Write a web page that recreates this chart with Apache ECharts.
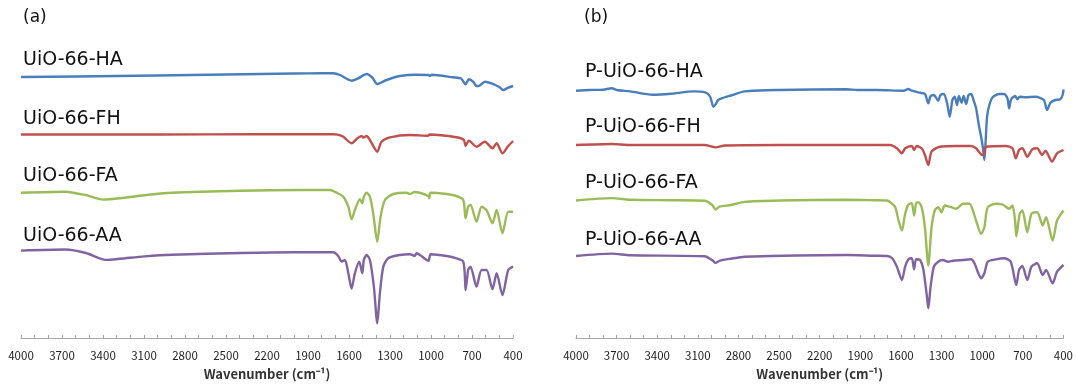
<!DOCTYPE html>
<html>
<head>
<meta charset="utf-8">
<script src="https://cdn.jsdelivr.net/npm/echarts@6/dist/echarts.min.js"></script>
<style>
  html, body { margin: 0; padding: 0; background: #fff; }
  #chart { width: 1076px; height: 386px; }
</style>
</head>
<body>
<div id="chart"></div>
<script>
// FTIR spectra: [wavenumber (cm-1), transmittance (%)]
// Panel (a): as-synthesised UiO-66 samples
const uio66HA = [
  [4000,100],[3600,100.5],[3000,101.5],[2500,102.5],[2000,103.5],[1800,103.7],[1715,103.7],
  [1666,102],[1581,96.3],[1532,98.7],[1471,103],[1430,99.5],[1393,93],[1325,97],[1228,101],
  [1106,102.3],[1018,102],[1008,101],[996,102.2],[838,99.7],[780,98.5],[747,92.7],[723,97.7],
  [690,95],[667,91],[650,91],[606,95.3],[557,93.7],[500,90],[472,87],[435,89.3],[399,91]
];
const uio66FH = [
  [4000,100],[3000,100],[2300,100.2],[1900,100.3],[1715,100.3],[1683,99.8],[1642,97.8],
  [1581,91.2],[1540,96],[1508,98.5],[1496,97],[1471,98.5],[1447,94.5],[1393,82.8],[1362,92.8],
  [1300,97.2],[1155,99.5],[1020,98.8],[1010,100],[813,97.2],[760,94.5],[747,88.5],[723,93.8],
  [667,87.8],[606,92.8],[550,86.2],[520,91.2],[477,81.2],[435,88.5],[399,93.5]
];
const uio66FA = [
  [4000,97.2],[3676,98.3],[3525,94.8],[3399,90.4],[3275,91.7],[3097,94.8],[2895,97.2],
  [2393,99.3],[1959,100],[1740,100],[1690,97.3],[1642,93.3],[1605,83.3],[1581,70.7],[1557,80],
  [1520,90.7],[1503,86.7],[1491,93.3],[1471,97.3],[1447,93.3],[1423,76.7],[1393,48.3],
  [1369,73.3],[1337,90],[1276,96],[1179,97.3],[1155,96],[1118,98],[1018,94],[1013,91.7],
  [1003,97.3],[886,96],[813,94],[764,90],[747,71.7],[728,83.3],[711,85],[667,68.3],[630,83.3],
  [594,80],[550,66.7],[520,80],[477,56.7],[435,78.3],[399,78.3]
];
const uio66AA = [
  [4000,101.7],[3676,102.8],[3525,99.3],[3380,92.4],[3275,93.5],[3097,95.9],[2895,97.6],
  [2393,99.3],[2000,100],[1715,100],[1679,96.3],[1654,90.7],[1630,92.3],[1605,79],[1581,63.7],
  [1557,79],[1525,90.7],[1503,79],[1491,92.7],[1471,97.3],[1447,92.3],[1418,65.7],[1393,29],
  [1374,59],[1349,85.7],[1313,94],[1228,97.3],[1155,98],[1118,96.3],[1106,99],[1018,91.5],
  [1003,98],[886,96.3],[813,94],[764,90.7],[750,70],[747,62.3],[735,75],[728,82.3],[711,85.7],
  [667,65.7],[630,82.3],[594,82.3],[550,63],[520,79],[477,57.3],[435,82.3],[399,85.7]
];

// Panel (b): P-UiO-66 samples
const pUio66HA = [
  [4000,99.3],[3900,100],[3800,100.3],[3735,101.7],[3700,100],[3600,98.6],[3434,95.2],
  [3300,96.2],[3132,98.6],[3050,97.9],[3010,93.5],[2985,83.2],[2969,85.6],[2950,90],[2920,91.8],
  [2856,94.5],[2755,98.6],[2500,100],[2001,100.7],[1922,100],[1776,100],[1581,99.3],[1545,101],
  [1520,99.3],[1459,97.3],[1423,96],[1398,86.7],[1381,94],[1357,95],[1325,89.3],[1308,95],
  [1284,96],[1259,86.7],[1240,73.3],[1220,90],[1203,93.3],[1186,85],[1172,94],[1152,87.3],
  [1137,94],[1118,86],[1101,95],[1081,96],[1064,90],[1045,81.7],[1025,65],[1008,53.3],
  [996,43.3],[984,30],[974,50],[964,73.3],[947,85],[923,92.7],[874,96],[838,96],[813,91.7],
  [801,81.7],[786,90.7],[757,94],[740,90.7],[723,93.3],[679,92.7],[606,93.3],[545,90],
  [521,80],[496,87.3],[460,90],[423,90.7],[406,95],[399,100.7]
];
const pUio66FH = [
  [4000,100],[3735,101],[3600,100],[3050,100],[2969,97.6],[2900,99.5],[2500,100],[1922,100],
  [1679,100],[1630,96.7],[1593,91.7],[1569,96.7],[1520,99],[1503,95],[1484,99],[1447,96.7],
  [1423,90],[1398,80],[1374,93.3],[1313,98.3],[1191,99],[1081,99],[1045,96.7],[1000,90],
  [984,92],[972,98.3],[826,99],[777,96.7],[752,86.7],[728,95],[703,96.7],[667,88.3],[630,95.7],
  [594,96.7],[557,90],[533,94.3],[484,83.3],[447,91.7],[399,95]
];
const pUio66FA = [
  [4000,100],[3735,102.4],[3600,100.7],[3300,100.3],[3050,99.7],[2994,95.5],[2969,91],
  [2940,93.8],[2856,95.5],[2755,98.6],[2500,100],[2001,100.7],[1800,100.3],[1703,100],
  [1679,98.3],[1642,93.3],[1618,80],[1593,70],[1569,86.7],[1545,96],[1520,97.3],[1503,85],
  [1488,97.3],[1471,98.3],[1447,93.3],[1423,73.3],[1398,35],[1374,73.3],[1350,90],[1325,93.3],
  [1301,88.3],[1276,95],[1228,93.3],[1191,91.7],[1142,96.7],[1093,96.7],[1069,90],[1045,80],
  [1008,66.7],[984,73.3],[959,93.3],[898,96.7],[850,96],[801,91.7],[777,95],[757,80],[748,64],
  [723,86.7],[703,90],[667,68.3],[636,86.7],[594,88.3],[553,75],[528,83.3],[480,60],[447,80],
  [399,90]
];
const pUio66AA = [
  [4000,100],[3735,102.4],[3600,100.7],[3050,99.7],[2994,95.9],[2969,93.1],[2940,95.2],
  [2856,97.3],[2755,99.3],[2001,101],[1800,100.3],[1703,100],[1666,97.7],[1630,89.3],
  [1593,76],[1569,89.3],[1545,96.7],[1520,97.7],[1503,86.7],[1488,96.7],[1459,96],[1435,86.7],
  [1411,62.7],[1398,47.7],[1381,69.3],[1357,89.3],[1325,94.3],[1289,96],[1252,94.3],
  [1216,95.3],[1142,96],[1081,96.7],[1057,92.7],[1033,84.3],[1008,77.7],[984,82.7],[959,94.3],
  [898,96.7],[838,97.7],[789,94.3],[748,71],[728,86],[703,90],[667,76],[636,89.3],[594,92.7],
  [553,81],[528,86],[480,72.7],[447,84.3],[399,91]
];

const labelsA = ['UiO-66-HA', 'UiO-66-FH', 'UiO-66-FA', 'UiO-66-AA'];
const labelsB = ['P-UiO-66-HA', 'P-UiO-66-FH', 'P-UiO-66-FA', 'P-UiO-66-AA'];
const panelTitles = ['(a)', '(b)'];
const axisTitle = 'Wavenumber (cm\u207B\u00B9)';
const tickMin = 400, tickMax = 4000, tickStep = 100, labelStep = 300;

// Vertical stacking offsets added to each trace (transmittance units)
const offsetsA = [161, 103.5, 48, -14.3];
const offsetsB = [148, 93, 37.5, -18];

const colors = ['#4a7ebb', '#c0504d', '#9bbb59', '#8064a2'];
const spectraA = [uio66HA, uio66FH, uio66FA, uio66AA];
const spectraB = [pUio66HA, pUio66FH, pUio66FA, pUio66AA];

const shift = (arr, off) => arr.map(p => [p[0], p[1] + off]);

const chart = echarts.init(document.getElementById('chart'), null, { renderer: 'canvas' });

function xAxisFor(gridIndex) {
  return {
    gridIndex, type: 'value', min: tickMin, max: tickMax, interval: tickStep, inverse: true,
    name: axisTitle, nameLocation: 'middle', nameGap: 30,
    nameTextStyle: { fontFamily: 'Noto Sans CJK KR', fontSize: 13, fontWeight: 'bold', color: '#333' },
    axisLine: { lineStyle: { color: '#a6a6a6', width: 1 } },
    axisTick: { inside: true, length: 3, lineStyle: { color: '#a6a6a6' } },
    axisLabel: {
      margin: 12, fontFamily: 'Noto Sans CJK KR', fontSize: 11.5, color: '#222',
      showMinLabel: true, showMaxLabel: true,
      formatter: v => ((tickMax - v) % labelStep === 0 ? String(v) : '')
    },
    splitLine: { show: false }
  };
}
function yAxisFor(gridIndex) {
  return { gridIndex, type: 'value', min: 0, max: 318, show: false, splitLine: { show: false } };
}

const series = [];
spectraA.forEach((s, i) => series.push({
  type: 'line', xAxisIndex: 0, yAxisIndex: 0, data: shift(s, offsetsA[i]),
  showSymbol: false, smooth: 0.25, lineStyle: { color: colors[i], width: 2.4 }, silent: true
}));
spectraB.forEach((s, i) => series.push({
  type: 'line', xAxisIndex: 1, yAxisIndex: 1, data: shift(s, offsetsB[i]),
  showSymbol: false, smooth: 0.25, lineStyle: { color: colors[i], width: 2.4 }, silent: true
}));

const labelYA = [62, 121, 178, 238];
const labelYB = [74, 129, 185, 242];
const txt = (text, x, y, size) => ({
  type: 'text', left: x, top: y - size * 0.6,
  style: { text, fontFamily: 'DejaVu Sans', fontSize: size, fill: '#111' }
});
const graphics = [
  txt(panelTitles[0], 23, 19, 17),
  txt(panelTitles[1], 584, 19, 17)
];
labelsA.forEach((t, i) => graphics.push(txt(t, 23, labelYA[i], 19)));
labelsB.forEach((t, i) => graphics.push(txt(t, 585, labelYB[i], 19)));

chart.setOption({
  animation: false,
  backgroundColor: '#fff',
  grid: [
    { left: 21, right: 563, top: 20, bottom: 48 },
    { left: 576, right: 8, top: 20, bottom: 48 }
  ],
  xAxis: [xAxisFor(0), xAxisFor(1)],
  yAxis: [yAxisFor(0), yAxisFor(1)],
  series,
  graphic: graphics
});
</script>
</body>
</html>
